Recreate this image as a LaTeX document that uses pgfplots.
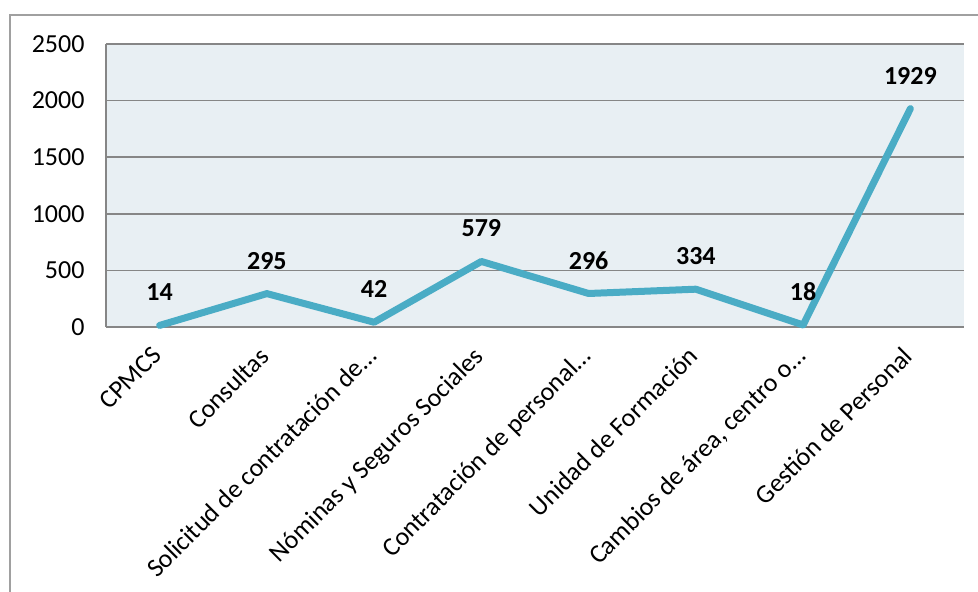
\documentclass[border=0pt]{standalone}
\usepackage{fontspec}
\setmainfont{Carlito}
\usepackage{pgfplots}
\pgfplotsset{compat=1.18}
\definecolor{linec}{RGB}{74,172,197}
\definecolor{bgc}{RGB}{232,239,243}
\definecolor{gridc}{RGB}{134,134,134}
\definecolor{framec}{RGB}{160,160,160}
\begin{document}
\begin{tikzpicture}
\useasboundingbox (0,0) rectangle (978pt,592pt);
\draw[framec, line width=1.5pt] (10pt,-5pt) -- (10pt,577pt) -- (985pt,577pt);
\begin{axis}[
 at={(106pt,265pt)}, anchor=south west,
 scale only axis, width=858pt, height=283pt,
 xmin=-0.5, xmax=7.5, ymin=0, ymax=2500,
 xtick={0,...,7},
 xticklabels={CPMCS, Consultas, Solicitud de contratación de…, Nóminas y Seguros Sociales, Contratación de personal…, Unidad de Formación, {Cambios de área, centro o…}, Gestión de Personal},
 ytick={0,500,...,2500},
 axis lines=left, axis line style={-, gridc, line width=1.5pt},
 ymajorgrids, grid style={gridc, line width=1.5pt},
 major tick length=0pt,
 axis background/.style={fill=bgc},
 tick label style={font=\fontsize{26}{30}\selectfont, black},
 /pgf/number format/assume math mode=true,
 /pgf/number format/1000 sep={},
 yticklabel style={anchor=east, xshift=-18pt},
 xticklabel style={anchor=north east, inner sep=0pt, xshift=-9pt, yshift=-18pt, rotate=45},
 nodes near coords,
 nodes near coords style={font=\fontsize{26}{30}\selectfont\bfseries, anchor=center, yshift=33pt, black},
 clip=false,
]
\addplot[linec, line width=7pt, line join=round, line cap=round] coordinates {(0,14) (1,295) (2,42) (3,579) (4,296) (5,334) (6,18) (7,1929)};
\end{axis}
\end{tikzpicture}
\end{document}
